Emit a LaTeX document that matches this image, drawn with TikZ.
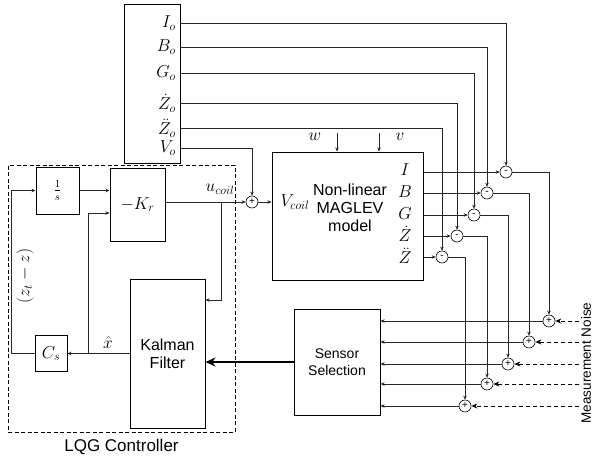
\documentclass[tikz,border=0pt]{standalone}
\usepackage{amsmath}
\usepackage{fontspec}
\setmainfont{Liberation Sans}
\usetikzlibrary{arrows.meta,positioning,calc}

\begin{document}
\begin{tikzpicture}[
  x=1pt,y=1pt,
  every node/.style={font=\fontsize{16}{18}\selectfont},
  box/.style={draw,line width=1pt,inner sep=0pt},
  lbl/.style={font=\fontsize{18}{20}\selectfont,inner sep=1pt},
  outlbl/.style={font=\fontsize{16}{18}\selectfont,inner sep=0pt},
  sumnode/.style={draw,circle,line width=0.6pt,minimum size=12pt,inner sep=0pt,font=\fontsize{10}{10}\selectfont},
  sig/.style={draw,line width=0.7pt,black!85,-{Stealth[length=4pt,width=3.5pt]}},
  wire/.style={draw,line width=0.7pt,black!85},
  noise/.style={draw,line width=0.9pt,dash pattern=on 4pt off 3pt,-{Stealth[length=6pt,width=5pt]}},
  bigsig/.style={draw,line width=2pt,-{Stealth[length=10pt,width=9pt]}}]

\useasboundingbox (0,0) rectangle (593,459);

% operating point values
\node[box,minimum width=56pt,minimum height=158pt] (ref) at (152,375) {};
\node[lbl,anchor=east] (Io) at (177,436) {$I_o$};
\node[lbl,anchor=east] (Bo) at (177,412) {$B_o$};
\node[lbl,anchor=east] (Go) at (177,386) {$G_o$};
\node[lbl,anchor=east] (Zdo) at (177,356) {$\dot{Z}_o$};
\node[lbl,anchor=east] (Zddo) at (177,331) {$\ddot{Z}_o$};
\node[lbl,anchor=east] (Vo) at (177,311) {$V_o$};

% plant
\node[box,minimum width=151pt,minimum height=128pt] (model) at (347.5,243) {};
\node[align=center] (modeltxt) at (350,251) {Non-linear\\MAGLEV\\model};
\node[lbl] (vcoil) at (295,257) {$V_{coil}$};
\node[outlbl] (oI) at (405,289) {$I$};
\node[outlbl] (oB) at (405,267) {$B$};
\node[outlbl] (oG) at (405,245) {$G$};
\node[outlbl] (oZd) at (405,225) {$\dot{Z}$};
\node[outlbl] (oZdd) at (405,203) {$\ddot{Z}$};

\coordinate (win) at (337,326);
\coordinate (vin) at (379,326);
\node[lbl] (wlbl) at (315,322) {$w$};
\node[lbl] (vlbl) at (400,322) {$v$};
\draw[sig] (win) -- (win |- model.north);
\draw[sig] (vin) -- (vin |- model.north);

% deviation and noise junctions
\node[sumnode] (mI) at (506,287) {-};
\node[sumnode] (mB) at (487,266) {-};
\node[sumnode] (mG) at (474,244) {-};
\node[sumnode] (mZd) at (457,223) {-};
\node[sumnode] (mZdd) at (442,202) {-};
\node[sumnode] (pI) at (549,138) {+};
\node[sumnode] (pB) at (529,117) {+};
\node[sumnode] (pG) at (508,95) {+};
\node[sumnode] (pZd) at (487,75) {+};
\node[sumnode] (pZdd) at (465,53) {+};

\draw[sig] (ref.east |- Io) -| (mI);
\draw[sig] (ref.east |- Bo) -| (mB);
\draw[sig] (ref.east |- Go) -| (mG);
\draw[sig] (ref.east |- Zdo) -| (mZd);
\draw[sig] (ref.east |- Zddo) -| (mZdd);

\draw[sig] (model.east |- mI) -- (mI);
\draw[sig] (model.east |- mB) -- (mB);
\draw[sig] (model.east |- mG) -- (mG);
\draw[sig] (model.east |- mZd) -- (mZd);
\draw[sig] (model.east |- mZdd) -- (mZdd);

\draw[sig] (mI) -| (pI);
\draw[sig] (mB) -| (pB);
\draw[sig] (mG) -| (pG);
\draw[sig] (mZd) -| (pZd);
\draw[sig] (mZdd) -| (pZdd);

% sensor selection
\node[box,minimum width=86pt,minimum height=106pt,align=center,font=\fontsize{14}{17}\selectfont] (sens) at (337,97) {Sensor\\Selection};
\draw[sig] (pI) -- (pI -| sens.east);
\draw[sig] (pB) -- (pB -| sens.east);
\draw[sig] (pG) -- (pG -| sens.east);
\draw[sig] (pZd) -- (pZd -| sens.east);
\draw[sig] (pZdd) -- (pZdd -| sens.east);

\coordinate (nI) at (579,138);
\coordinate (nB) at (579,117);
\coordinate (nG) at (579,95);
\coordinate (nZd) at (579,75);
\coordinate (nZdd) at (579,53);
\draw[noise] (nI) -- (pI);
\draw[noise] (nB) -- (pB);
\draw[noise] (nG) -- (pG);
\draw[noise] (nZd) -- (pZd);
\draw[noise] (nZdd) -- (pZdd);
\node[rotate=90,inner sep=0pt,font=\fontsize{13.5}{16}\selectfont] (mnoise) at (586,96) {Measurement Noise};

% LQG controller
\node[draw,line width=1pt,dash pattern=on 4pt off 2.5pt,minimum width=227pt,minimum height=267pt] (lqg) at (121.5,160.5) {};
\node[below=3pt of lqg,font=\fontsize{17}{19}\selectfont] (lqglbl) {LQG Controller};

\node[box,minimum width=43pt,minimum height=47pt] (int) at (57.5,268.5) {$\frac{1}{s}$};
\node[box,lbl,minimum width=55pt,minimum height=73pt] (kr) at (137.5,254.5) {$-K_r$};
\node[box,lbl,minimum width=32pt,minimum height=36pt] (cs) at (51,105.5) {$C_s$};
\node[box,minimum width=75pt,minimum height=149pt,align=center] (kal) at (167.5,105.5) {Kalman\\Filter};

\node[sumnode] (sum) at (252,257) {+};
\coordinate (ub) at (221,257);
\coordinate (xb) at (88,105.5);
\node[lbl] (ucoil) at (220,270) {$u_{coil}$};
\node[lbl] (xhat) at (108,117) {$\hat{x}$};
\node[lbl,rotate=90] (zerr) at (25,183) {$(z_t-z)$};

\draw[sig] (int) -- (kr.west |- int);
\draw[sig] (kr.east |- sum) -- (sum);
\draw[sig] (ub) |- ([yshift=53.5pt]kal.east);
\draw[sig] (ref.east |- Vo) -| (sum);
\draw[sig] (sum) -- (sum -| model.west);
\draw[sig] (kal.west) -- (cs);
\draw[sig] (xb) |- ([yshift=-8.5pt]kr.west);
\draw[sig] (cs.west) -- ++(-23,0) |- (int.west);
\draw[bigsig] (sens.west) -- (sens.west -| kal.east);
\end{tikzpicture}
\end{document}
